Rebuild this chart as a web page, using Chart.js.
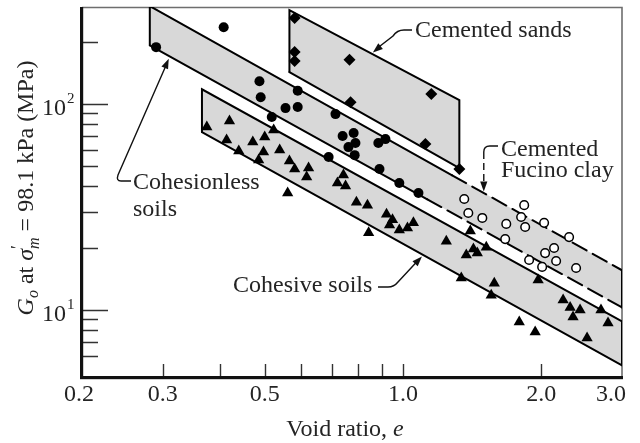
<!DOCTYPE html>
<html>
<head>
<meta charset="utf-8">
<script src="https://cdn.jsdelivr.net/npm/chart.js"></script>
<style>
  html, body { margin: 0; padding: 0; background: #ffffff; }
  canvas { display: block; }
</style>
</head>
<body>
<canvas id="chart" width="640" height="443"></canvas>
<script>
// ---------------- data: void ratio e  vs  shear modulus Go (MPa) ----------------
// cohesionless soils (filled circles)
const cohesionlessE = [0.290, 0.407, 0.487, 0.490, 0.518, 0.555, 0.590, 0.590, 0.713, 0.739,
                       0.781, 0.788, 0.761, 0.785, 0.689, 0.884, 0.916, 0.889, 0.982, 1.081];
const cohesionlessG = [189, 236, 129, 108, 86.5, 95.6, 116, 96.7, 89.4, 70.0,
                       72.3, 64.7, 61.8, 56.5, 55.3, 64.7, 67.6, 48.4, 41.4, 37.0];

// cemented sands (filled diamonds)
const cementedSandsE = [0.581, 0.581, 0.581, 0.765, 1.153, 0.769, 1.119, 1.327];
const cementedSandsG = [262, 179, 162, 164, 112, 102, 64.0, 48.4];

// cemented Fucino clay (open circles)
const fucinoE = [1.360, 1.837, 1.388, 1.489, 1.679, 1.809, 1.846, 2.030, 1.670, 2.301,
                 2.134, 2.040, 2.156, 1.883, 2.010, 2.383];
const fucinoG = [34.6, 32.3, 29.6, 28.0, 26.2, 28.3, 25.3, 26.5, 22.1, 22.6,
                 20.0, 18.9, 17.3, 17.5, 16.2, 16.0];

// cohesive soils (filled triangles)
const cohesiveE = [0.374, 0.419, 0.413, 0.439, 0.471, 0.500, 0.497, 0.485, 0.523, 0.539,
                   0.566, 0.581, 0.623, 0.617, 0.561, 0.742, 0.720, 0.750, 0.792, 0.837,
                   0.921, 0.949, 0.935, 0.982, 1.023, 1.054, 0.842, 1.243, 1.374, 1.424,
                   1.452, 1.519, 1.402, 1.340, 1.581, 1.557, 1.970, 2.233, 2.313, 2.431,
                   2.347, 2.700, 2.797, 1.792, 1.941, 2.518];
const cohesiveG = [77.3, 82.7, 66.9, 59.1, 65.4, 69.2, 58.5, 53.5, 74.8, 59.8,
                   52.9, 48.4, 48.9, 44.2, 37.0, 45.2, 41.4, 40.0, 33.4, 32.3,
                   29.2, 27.4, 25.9, 24.5, 25.0, 26.5, 23.7, 21.6, 18.5, 19.8,
                   18.9, 20.2, 24.2, 14.3, 13.5, 11.8, 14.0, 11.2, 10.3, 10.0,
                   9.25, 10.0, 8.65, 8.74, 7.82, 7.31];

// shaded bands: an outline (left edge, upper edge, right edge) and a base (lower edge)
const sandsOutlineE = [0.566, 0.566, 1.327, 1.327];
const sandsOutlineG = [143, 286, 104.6, 48.9];
const sandsBaseE = [0.566, 1.327];
const sandsBaseG = [143, 48.9];

const cohesionlessOutlineE = [0.281, 0.281, 1.28, 3.0, 3.0];
const cohesionlessOutlineG = [193, 299, 45.1, 15.6, 10.3];
const cohesionlessBaseE = [0.281, 1.13, 3.0];
const cohesionlessBaseG = [193, 34.5, 10.3];
const fucinoBoundaryFrom = 1.13;   // beyond this void ratio the band edges are the Fucino clay limits

const cohesiveOutlineE = [0.365, 0.365, 3.0, 3.0];
const cohesiveOutlineG = [73.1, 118, 8.81, 5.39];
const cohesiveBaseE = [0.365, 3.0];
const cohesiveBaseG = [73.1, 5.39];

// where the label arrows touch the bands
const arrowTipE = [0.86, 1.50, 0.309, 1.10];   // sands, Fucino, cohesionless, cohesive
const arrowTipG = [178, 37.6, 166, 18.2];

// axes
const xRange = [0.2, 3.0];
const yRange = [4.73, 296];
const xTickMarks = [0.3, 0.4, 0.5, 0.6, 0.7, 0.8, 0.9, 1.0, 2.0];
const xTickLabelValues = [0.2, 0.3, 0.5, 1.0, 2.0, 3.0];
const xTickLabels = ['0.2', '0.3', '0.5', '1.0', '2.0', '3.0'];
const yMajorTicks = [10, 100];
const yMajorExponents = ['1', '2'];
const yMinorTicks = [6, 7, 8, 9, 20, 30, 40, 50, 60, 70, 80, 90, 200];

// ---------------- helpers ----------------
const pts = (E, G) => E.map((e, i) => ({x: e, y: G[i]}));
const SERIF = '"Liberation Serif", "Times New Roman", "DejaVu Serif", serif';
const INK = '#242424';
const BAND = '#d8d8d8';

function markers(E, G, style, radius, fillCol, borderW) {
  return {
    data: pts(E, G), showLine: false, pointStyle: style, pointRadius: radius,
    pointBackgroundColor: fillCol, pointBorderColor: '#000', pointBorderWidth: borderW,
    pointHoverRadius: radius
  };
}
function edge(E, G, extra) {
  return Object.assign({
    data: pts(E, G), showLine: true, pointRadius: 0, pointHoverRadius: 0,
    borderColor: '#000', borderWidth: 2, fill: false,
    borderCapStyle: 'round', borderJoinStyle: 'miter', backgroundColor: BAND
  }, extra || {});
}
const dashedBeyond = c =>
  Math.min(c.p0.parsed.x, c.p1.parsed.x) >= fucinoBoundaryFrom ? [16, 7] : undefined;

function arrowHead(ctx, fx, fy, x, y) {
  const a = Math.atan2(y - fy, x - fx), len = 10, half = 3.6;
  ctx.beginPath();
  ctx.moveTo(x, y);
  ctx.lineTo(x - len * Math.cos(a) + half * Math.sin(a), y - len * Math.sin(a) - half * Math.cos(a));
  ctx.lineTo(x - len * Math.cos(a) - half * Math.sin(a), y - len * Math.sin(a) + half * Math.cos(a));
  ctx.closePath();
  ctx.fill();
}

// rich text run along the current baseline; parts flagged "over" share x with the next part
function richRun(ctx, parts, measureOnly) {
  let x = 0, pending = 0;
  for (const p of parts) {
    ctx.font = `${p.style} ${p.size}px ${SERIF}`;
    const w = ctx.measureText(p.text).width;
    if (!measureOnly) ctx.fillText(p.text, x, p.shift);
    if (p.over) { pending = w; continue; }
    x += Math.max(w, pending);
    pending = 0;
  }
  return x;
}

const yTitleParts = [
  {text: 'G', style: 'italic', size: 24, shift: 0},
  {text: 'o', style: 'italic', size: 16, shift: 5},
  {text: ' at ', style: '', size: 24, shift: 0},
  {text: 'σ', style: 'italic', size: 24, shift: 0},
  {text: '′', style: '', size: 18, shift: -9, over: true},
  {text: 'm', style: 'italic', size: 16, shift: 6},
  {text: ' = 98.1 kPa (MPa)', style: '', size: 24, shift: 0}
];
const xTitleParts = [
  {text: 'Void ratio, ', style: '', size: 24, shift: 0},
  {text: 'e', style: 'italic', size: 24, shift: 0}
];

// ---------------- frame, ticks, titles and labels ----------------
const paperAxes = {
  id: 'paperAxes',
  beforeDatasetsDraw(chart) {
    const {ctx, chartArea: a} = chart;
    ctx.save();
    ctx.strokeStyle = '#6e6e6e';
    ctx.lineWidth = 1.6;
    ctx.beginPath();
    ctx.moveTo(a.left, a.top + 0.5);
    ctx.lineTo(a.right, a.top + 0.5);
    ctx.lineTo(a.right, a.bottom);
    ctx.stroke();
    ctx.restore();
  },
  afterDatasetsDraw(chart) {
    const {ctx, chartArea: a, scales: {x, y}} = chart;
    ctx.save();

    // inward ticks
    ctx.strokeStyle = '#333';
    ctx.lineWidth = 1.4;
    ctx.beginPath();
    xTickMarks.forEach(v => {
      const px = Math.round(x.getPixelForValue(v)) + 0.5;
      ctx.moveTo(px, a.bottom); ctx.lineTo(px, a.bottom - 13);
    });
    yMinorTicks.forEach(v => {
      const py = Math.round(y.getPixelForValue(v)) + 0.5;
      ctx.moveTo(a.left, py); ctx.lineTo(a.left + 16, py);
    });
    yMajorTicks.forEach(v => {
      const py = Math.round(y.getPixelForValue(v)) + 0.5;
      ctx.moveTo(a.left, py); ctx.lineTo(a.left + 26, py);
    });
    ctx.stroke();

    // heavy left and bottom axes
    ctx.fillStyle = '#111';
    ctx.fillRect(a.left - 2, a.top, 3.2, a.bottom - a.top + 2);
    ctx.fillRect(a.left - 2, a.bottom - 1, a.right - a.left + 3, 3.2);

    ctx.fillStyle = INK;
    ctx.textBaseline = 'alphabetic';

    // x tick labels
    ctx.font = `24px ${SERIF}`;
    xTickLabelValues.forEach((v, i) => {
      const px = x.getPixelForValue(v);
      if (i === 0) { ctx.textAlign = 'center'; ctx.fillText(xTickLabels[i], px - 3, a.bottom + 24); }
      else if (i === xTickLabelValues.length - 1) { ctx.textAlign = 'right'; ctx.fillText(xTickLabels[i], px + 4, a.bottom + 24); }
      else { ctx.textAlign = 'center'; ctx.fillText(xTickLabels[i], px, a.bottom + 24); }
    });

    // y tick labels: 10 with a raised exponent
    yMajorTicks.forEach((v, i) => {
      const py = y.getPixelForValue(v);
      ctx.font = `24px ${SERIF}`;
      ctx.textAlign = 'right';
      ctx.fillText('10', a.left - 16, py + 11);
      ctx.font = `15px ${SERIF}`;
      ctx.textAlign = 'left';
      ctx.fillText(yMajorExponents[i], a.left - 15, py - 1);
    });

    // x title
    ctx.textAlign = 'left';
    const xw = richRun(ctx, xTitleParts, true);
    ctx.save();
    ctx.translate(345 - xw / 2, a.bottom + 59);
    richRun(ctx, xTitleParts, false);
    ctx.restore();

    // y title, rotated
    const yw = richRun(ctx, yTitleParts, true);
    ctx.save();
    ctx.translate(33, 188);
    ctx.rotate(-Math.PI / 2);
    ctx.translate(-yw / 2, 0);
    richRun(ctx, yTitleParts, false);
    ctx.restore();

    // band labels with leader arrows
    const tip = i => [x.getPixelForValue(arrowTipE[i]), y.getPixelForValue(arrowTipG[i])];
    ctx.font = `24px ${SERIF}`;
    ctx.textAlign = 'left';
    ctx.fillText('Cemented sands', 415, 37);
    ctx.fillText('Cemented', 501, 156);
    ctx.fillText('Fucino clay', 501, 177);
    ctx.fillText('Cohesionless', 133, 189);
    ctx.fillText('soils', 133, 216);
    ctx.fillText('Cohesive soils', 233, 292);

    ctx.strokeStyle = '#111';
    ctx.fillStyle = '#111';
    ctx.lineWidth = 1.4;

    // cemented sands
    let [tx, ty] = tip(0);
    ctx.beginPath();
    ctx.moveTo(412, 30); ctx.lineTo(404, 30);
    ctx.quadraticCurveTo(397, 30, 393, 36);
    ctx.lineTo(tx + 4, ty - 4);
    ctx.stroke();
    arrowHead(ctx, 393, 36, tx, ty);

    // cemented Fucino clay
    [tx, ty] = tip(1);
    ctx.beginPath();
    ctx.moveTo(498, 146); ctx.lineTo(tx + 6, 146);
    ctx.quadraticCurveTo(tx, 146, tx, 152);
    ctx.stroke();
    ctx.setLineDash([7, 4]);
    ctx.beginPath();
    ctx.moveTo(tx, 152); ctx.lineTo(tx, ty - 7);
    ctx.stroke();
    ctx.setLineDash([]);
    arrowHead(ctx, tx, 152, tx, ty);

    // cohesionless soils
    [tx, ty] = tip(2);
    ctx.beginPath();
    ctx.moveTo(131, 181); ctx.lineTo(121, 181);
    ctx.quadraticCurveTo(116, 181, 118, 175);
    ctx.lineTo(tx - 2, ty + 5);
    ctx.stroke();
    arrowHead(ctx, 118, 175, tx, ty);

    // cohesive soils
    [tx, ty] = tip(3);
    ctx.beginPath();
    ctx.moveTo(378, 287); ctx.lineTo(388, 287);
    ctx.quadraticCurveTo(394, 287, 398, 282);
    ctx.lineTo(tx - 3, ty + 3);
    ctx.stroke();
    arrowHead(ctx, 398, 282, tx, ty);

    ctx.restore();
  }
};

// ---------------- chart ----------------
function build() {
  new Chart(document.getElementById('chart'), {
    type: 'scatter',
    data: {
      datasets: [
        markers(cohesionlessE, cohesionlessG, 'circle', 5, '#000', 0),
        markers(cementedSandsE, cementedSandsG, 'rectRot', 6, '#000', 0),
        markers(fucinoE, fucinoG, 'circle', 4.3, '#fff', 1.5),
        markers(cohesiveE, cohesiveG, 'triangle', 6.5, '#000', 0),

        edge(sandsOutlineE, sandsOutlineG, {fill: '+1'}),
        edge(sandsBaseE, sandsBaseG),
        edge(cohesiveOutlineE, cohesiveOutlineG, {fill: '+1'}),
        edge(cohesiveBaseE, cohesiveBaseG),

        edge(cohesionlessOutlineE, cohesionlessOutlineG, {segment: {borderDash: dashedBeyond}}),
        edge(cohesionlessBaseE, cohesionlessBaseG, {segment: {borderDash: dashedBeyond}}),
        edge(cohesionlessOutlineE, cohesionlessOutlineG, {fill: '+1', borderWidth: 0}),
        edge(cohesionlessBaseE, cohesionlessBaseG, {borderWidth: 0})
      ]
    },
    options: {
      responsive: false,
      devicePixelRatio: 1,
      animation: false,
      events: [],
      layout: {padding: {left: 82, right: 18, top: 7, bottom: 66}},
      scales: {
        x: {type: 'logarithmic', min: xRange[0], max: xRange[1], display: false},
        y: {type: 'logarithmic', min: yRange[0], max: yRange[1], display: false}
      },
      plugins: {
        legend: {display: false},
        tooltip: {enabled: false},
        filler: {drawTime: 'beforeDatasetsDraw', propagate: false}
      }
    },
    plugins: [paperAxes]
  });
}

Promise.all([
  document.fonts.load(`24px ${SERIF}`),
  document.fonts.load(`italic 24px ${SERIF}`)
]).then(build, build);
</script>
</body>
</html>
